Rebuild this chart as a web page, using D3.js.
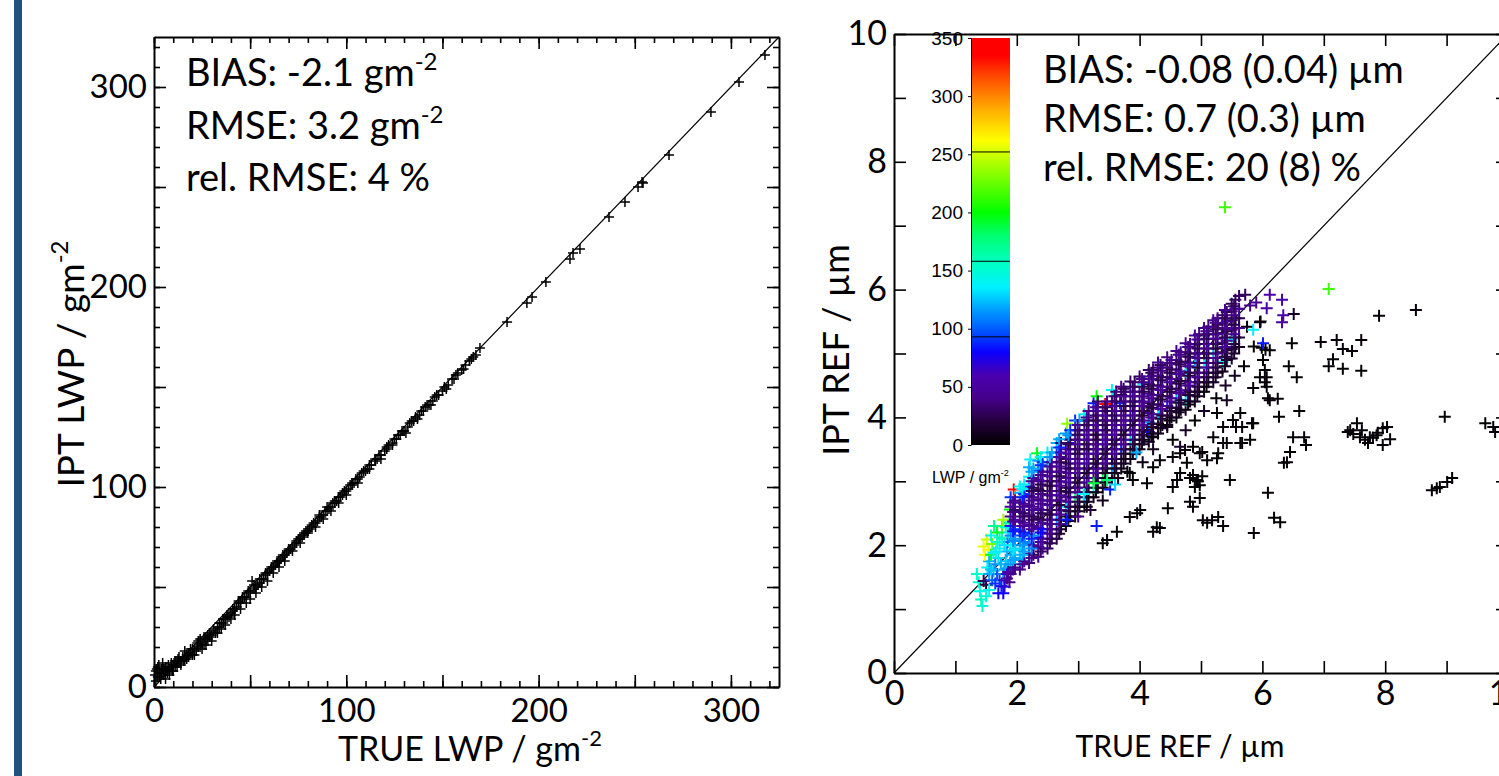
<!DOCTYPE html>
<html>
<head>
<meta charset="utf-8">
<script src="https://cdn.jsdelivr.net/npm/d3@7"></script>
<style>
  body { margin: 0; background: #fff; }
  svg { display: block; }
  text { font-family: Lato, "Open Sans", sans-serif; fill: #000; }
</style>
</head>
<body>
<div id="chart"></div>
<script>
// left panel: true vs retrieved LWP (g m-2)
const lwpTrue = [0.5,1,1.5,2,2.5,3,3.5,4,4.5,5,5.5,6,7,7.5,8,9,9.5,10,11,12,12.5,13,14,15,15.5,16,17,18,19,20,21,22,22.5,23,24,25,26,27,28,29,30,31,32,33,34,35,36,37,38,39,40,41,42,43,44,45,46,47,48,49,50,51,52,53,54,55,56,57,58,59,60,61,62,63,64,65,66,67,68,69,70,71,72,73,74,75,76,77,78,79,80,81,82,83,84,85,86,87,88,89,90,91,92,93,94,95,96,97,98,99,100,101,102,103,104,105,106,107,108,110,111,112,113,115,116,117,118,120,121,122,124,125,126,128,129,130,132,133,135,136,138,139,140,142,143,145,146,148,150,151,153,155,156,158,160,162,164,166,167.4,169.5,183.6,193.9,196.6,203.8,216.3,217.9,221.5,236.6,244.9,251.7,253.8,254.3,267.8,289.6,304.2,317.7,
  1,2,3,4,5,6,6.5,8,9,10,11,12,13,14,16,17,18,19,20,21,23,24,25,26,27,28,29,30,31,33,34,35,36,37,38,40,41,42,44,45,46,48,49,50,52,53,55,56,58,59,61,62,64,65,67,68,70,72,74,76,78,80,82,84,86,88,90,92,94,96,98,100,103,106,109,112,115,118,121,124,127,131,134,137,141,144,147,152,157,161,165];
const lwpIpt  = [6,3,9,5,11,7,4,9,12,6,8,10,7,11,9,12,8,11,13,10,14,12,11,15,13,14,16,15,17,16,19,18,22,20,21,22,21,24,24,25,26,28,27,30,30,32,32,34,35,35,37,38,39,40,42,42,44,45,45,47,48,53,49,50,51,52,54,54,56,57,58,59,60,61,62,63,64,65,66,67,68,69,70,71,72,74,74,75,76,78,78,79,80,82,82,83,85,85,86,88,88,89,90,92,92,93,95,95,96,98,98,99,101,101,102,104,104,105,107,108,109,111,111,113,114,116,116,118,119,121,122,124,124,126,128,128,130,132,133,135,136,138,138,141,141,143,145,146,148,150,151,154,154,157,158.5,161,163,165,166,169.5,182.5,192,195,202.5,214,217,219,235,242.5,250,252.5,252,266,287.5,302.5,316,
  8,10,5,7,9,4,8,6,10,8,10,13,15,13,18,14,17,19,19,16,23,24,19,25,21,26,27,23,29,27,32,29,34,31,36,34,39,36,43,39,45,42,48,44,51,47,54,50,57,53,60,57,63,60,66,63,69,68,73,72,77,77,81,80,86,84,90,88,93,92,97,96,102,102,108,109,114,114,120,121,126,127,133,134,140,141,146,149,156,159,164];
const lwpTicks = [0, 100, 200, 300];
const lwpStats = ["BIAS: -2.1 gm", "RMSE: 3.2 gm", "rel. RMSE: 4 %"];

// right panel: [true REF, retrieved REF, LWP] in µm, µm, g m-2
const refTip = [[1.35,1.55,155],[1.38,1.42,150],[1.40,1.28,145],[1.42,1.15,158],[1.44,1.05,150],[1.46,1.44,28],[1.50,1.38,20],[1.52,1.65,140],[1.55,1.75,120],[1.48,1.85,262],[1.46,1.98,258],[1.51,2.09,250],[1.54,1.93,265],[1.58,1.85,190],[1.60,2.02,230],[1.62,1.60,125],[1.65,1.70,110],[1.68,1.55,95],[1.70,1.80,130],[1.72,1.95,140],[1.75,1.36,85],[1.78,1.25,80],[1.72,1.45,90],[1.76,2.10,150],[1.76,2.30,220],[1.78,2.40,240],[1.80,1.62,115],[1.82,1.75,125],[1.84,1.90,120],[1.85,2.05,100],[1.86,2.20,130],[1.88,2.35,175],[1.89,2.56,200],[1.95,2.87,340],[1.97,2.76,300],[1.68,2.20,200],[1.63,2.30,170],[1.58,2.15,145],[1.70,1.25,80],[1.80,1.45,60],
  [1.55,1.55,118],[1.60,1.45,100],[1.65,1.40,90],[1.62,1.88,135],[1.68,2.05,150],[1.72,2.12,160],[1.78,1.55,110],[1.80,2.00,130],[1.84,1.55,70],[1.86,1.65,120],[1.55,1.30,140],[1.50,1.20,150],[1.58,1.62,125],[1.66,1.90,140],[1.74,1.70,120],[1.82,2.28,150],
  [1.84,1.48,45],[1.88,1.42,40],[1.80,1.35,70],[1.86,1.58,50]];
const refBand = [
  [1.90,1.55,45],[1.90,1.70,115],[1.90,1.85,120],[1.90,2.00,135],[1.90,2.15,110],[1.90,2.30,85],[1.90,2.45,50],[1.90,2.60,45],[1.90,2.75,90],
  [2.05,1.62,40],[2.05,1.77,118],[2.05,1.92,130],[2.05,2.07,112],[2.05,2.22,80],[2.05,2.37,48],[2.05,2.52,45],[2.05,2.67,30],[2.05,2.82,120],[2.05,2.92,140],
  [2.20,1.72,35],[2.20,1.87,45],[2.20,2.02,110],[2.20,2.17,90],[2.20,2.32,50],[2.20,2.47,42],[2.20,2.62,30],[2.20,2.77,45],[2.20,2.92,85],[2.20,3.07,135],[2.20,3.22,120],[2.22,3.34,140],
  [2.35,1.82,40],[2.35,1.97,45],[2.35,2.12,75],[2.35,2.27,48],[2.35,2.42,28],[2.35,2.57,45],[2.35,2.72,42],[2.35,2.87,25],[2.35,3.02,45],[2.35,3.17,90],[2.35,3.32,118],[2.33,3.44,195],
  [2.50,1.95,30],[2.50,2.10,42],[2.50,2.25,45],[2.50,2.40,25],[2.50,2.55,48],[2.50,2.70,40],[2.50,2.85,22],[2.50,3.00,45],[2.50,3.15,40],[2.50,3.30,115],[2.50,3.45,138],
  [2.65,2.10,25],[2.65,2.25,40],[2.65,2.40,110],[2.65,2.55,45],[2.65,2.70,20],[2.65,2.85,45],[2.65,3.00,42],[2.65,3.15,28],[2.65,3.30,45],[2.65,3.45,88],[2.65,3.60,120],
  [2.80,2.30,8],[2.80,2.45,20],[2.80,2.60,130],[2.80,2.75,42],[2.80,2.90,22],[2.80,3.05,46],[2.80,3.20,40],[2.80,3.35,25],[2.80,3.50,45],[2.84,3.60,85],[2.80,3.75,115],[2.82,3.90,235],
  [2.95,2.45,12],[2.95,2.60,25],[2.95,2.75,180],[2.95,2.90,40],[2.95,3.05,20],[2.95,3.20,45],[2.95,3.35,42],[2.95,3.50,24],[2.95,3.65,45],[2.95,3.80,30],[2.95,3.95,90],
  [3.10,2.60,5],[3.10,2.75,118],[3.10,2.90,22],[3.10,3.05,45],[3.10,3.20,18],[3.10,3.35,46],[3.10,3.50,40],[3.10,3.65,25],[3.10,3.80,44],[3.10,3.95,28],[3.10,4.05,138],
  [3.25,2.75,12],[3.25,2.90,135],[3.25,3.05,20],[3.25,3.20,44],[3.25,3.35,18],[3.25,3.50,46],[3.25,3.65,40],[3.25,3.80,22],[3.25,3.95,45],[3.25,4.10,30],[3.25,4.22,85],
  [3.40,2.90,6],[3.40,3.05,190],[3.40,3.20,15],[3.40,3.35,42],[3.40,3.50,20],[3.40,3.65,46],[3.40,3.80,40],[3.40,3.95,24],[3.40,4.10,45],[3.44,4.21,340],[3.30,4.33,200],
  [3.55,3.05,10],[3.55,3.20,115],[3.55,3.35,18],[3.55,3.50,45],[3.55,3.65,22],[3.55,3.80,44],[3.55,3.95,40],[3.55,4.10,26],[3.55,4.25,42],[3.55,4.43,140],
  [3.70,3.20,5],[3.70,3.35,14],[3.70,3.50,85],[3.70,3.65,44],[3.70,3.80,20],[3.70,3.95,46],[3.70,4.10,40],[3.68,4.22,88],[3.70,4.35,25],[3.70,4.48,40],
  [3.85,3.35,12],[3.85,3.50,20],[3.85,3.65,130],[3.85,3.80,42],[3.85,3.95,22],[3.85,4.10,46],[3.85,4.25,25],[3.85,4.40,42],[3.85,4.56,30],
  [4.00,3.50,6],[4.00,3.65,15],[4.00,3.80,22],[4.00,3.95,45],[4.00,4.10,20],[4.00,4.25,44],[4.00,4.40,40],[4.06,4.52,138],[4.00,4.64,28],
  [4.15,3.62,12],[4.15,3.77,80],[4.15,3.92,115],[4.15,4.07,42],[4.15,4.22,22],[4.15,4.37,46],[4.15,4.52,25],[4.15,4.64,42],[4.15,4.74,30],
  [4.30,3.75,5],[4.30,3.90,15],[4.30,4.05,135],[4.30,4.20,44],[4.30,4.35,20],[4.30,4.50,45],[4.30,4.65,26],[4.30,4.78,40],[4.30,4.86,42],
  [4.45,3.88,10],[4.45,4.03,18],[4.45,4.18,85],[4.45,4.33,44],[4.45,4.48,22],[4.45,4.63,46],[4.45,4.78,25],[4.45,4.94,40],
  [4.60,4.00,5],[4.60,4.15,20],[4.60,4.30,118],[4.60,4.45,42],[4.60,4.60,22],[4.60,4.75,45],[4.60,4.90,28],[4.60,5.04,42],
  [4.75,4.12,12],[4.75,4.27,130],[4.75,4.42,20],[4.75,4.57,44],[4.75,4.72,138],[4.75,4.87,42],[4.75,5.02,25],[4.75,5.16,40],
  [4.90,4.25,10],[4.90,4.40,22],[4.90,4.55,42],[4.90,4.70,20],[4.90,4.85,115],[4.90,5.00,44],[4.90,5.14,26],[4.90,5.28,42],
  [5.05,4.40,6],[5.05,4.55,20],[5.05,4.70,44],[5.05,4.85,135],[5.05,5.00,24],[5.05,5.15,42],[5.05,5.28,28],[5.05,5.40,40],
  [5.20,4.55,14],[5.20,4.70,22],[5.20,4.85,40],[5.20,5.00,118],[5.20,5.15,22],[5.20,5.30,44],[5.20,5.42,26],[5.20,5.52,40],
  [5.35,4.72,12],[5.35,4.87,138],[5.35,5.02,20],[5.35,5.17,42],[5.35,5.32,25],[5.35,5.47,40],[5.35,5.60,28],
  [5.50,4.92,15],[5.50,5.07,22],[5.50,5.22,135],[5.50,5.37,42],[5.50,5.52,24],[5.50,5.66,40],[5.50,5.78,28],
  [5.62,5.10,12],[5.62,5.25,20],[5.62,5.40,40],[5.62,5.55,25],[5.62,5.70,42],[5.62,5.90,30]];
const refBandMid = [
  [1.97,1.65,40],[1.97,1.80,120],[1.97,1.95,130],[1.97,2.10,115],[1.97,2.25,88],[1.97,2.40,48],[1.97,2.55,30],[1.97,2.70,45],
  [2.12,1.75,42],[2.12,1.90,118],[2.12,2.05,110],[2.12,2.20,85],[2.12,2.35,45],[2.12,2.50,28],[2.12,2.65,45],[2.12,2.80,90],[2.12,2.95,135],
  [2.27,1.85,30],[2.27,2.00,45],[2.27,2.15,115],[2.27,2.30,48],[2.27,2.45,25],[2.27,2.60,45],[2.27,2.75,40],[2.27,2.90,25],[2.27,3.05,45],[2.27,3.20,120],
  [2.42,1.95,40],[2.42,2.10,45],[2.42,2.25,80],[2.42,2.40,25],[2.42,2.55,46],[2.42,2.70,42],[2.42,2.85,22],[2.42,3.00,45],[2.42,3.15,40],[2.42,3.30,90],
  [2.57,2.10,25],[2.57,2.25,42],[2.57,2.40,46],[2.57,2.55,22],[2.57,2.70,45],[2.57,2.85,40],[2.57,3.00,25],[2.57,3.15,45],[2.57,3.30,42],[2.57,3.45,118],
  [2.72,2.25,15],[2.72,2.40,22],[2.72,2.55,42],[2.72,2.70,45],[2.72,2.85,20],[2.72,3.00,46],[2.72,3.15,40],[2.72,3.30,25],[2.72,3.45,45],[2.72,3.60,30],
  [2.87,2.45,8],[2.87,2.60,20],[2.87,2.75,44],[2.87,2.90,22],[2.87,3.05,45],[2.87,3.20,24],[2.87,3.35,46],[2.87,3.50,40],[2.87,3.65,25],[2.87,3.80,88],
  [3.02,2.60,12],[3.02,2.75,22],[3.02,2.90,44],[3.02,3.05,20],[3.02,3.20,46],[3.02,3.35,42],[3.02,3.50,24],[3.02,3.65,45],[3.02,3.80,28],[3.02,3.95,118],
  [3.17,2.75,6],[3.17,2.90,20],[3.17,3.05,42],[3.17,3.20,22],[3.17,3.35,46],[3.17,3.50,24],[3.17,3.65,44],[3.17,3.80,40],[3.17,3.95,26],[3.17,4.10,42],
  [3.32,2.90,12],[3.32,3.05,20],[3.32,3.20,44],[3.32,3.35,20],[3.32,3.50,46],[3.32,3.65,24],[3.32,3.80,42],[3.32,3.95,26],[3.32,4.10,44],[3.32,4.25,30],
  [3.47,3.05,6],[3.47,3.20,18],[3.47,3.35,42],[3.47,3.50,22],[3.47,3.65,46],[3.47,3.80,24],[3.47,3.95,40],[3.47,4.10,26],[3.47,4.25,42],
  [3.62,3.20,12],[3.62,3.35,20],[3.62,3.50,44],[3.62,3.65,22],[3.62,3.80,46],[3.62,3.95,25],[3.62,4.10,42],[3.62,4.25,26],[3.62,4.40,40],
  [3.77,3.35,6],[3.77,3.50,18],[3.77,3.65,44],[3.77,3.80,22],[3.77,3.95,46],[3.77,4.10,24],[3.77,4.25,42],[3.77,4.40,28],
  [3.92,3.50,12],[3.92,3.65,20],[3.92,3.80,44],[3.92,3.95,22],[3.92,4.10,45],[3.92,4.25,26],[3.92,4.40,42],[3.92,4.55,30],
  [4.07,3.65,8],[4.07,3.80,20],[4.07,3.95,42],[4.07,4.10,22],[4.07,4.25,46],[4.07,4.40,25],[4.07,4.55,40],
  [4.22,3.75,12],[4.22,3.90,20],[4.22,4.05,44],[4.22,4.20,22],[4.22,4.35,45],[4.22,4.50,26],[4.22,4.65,42],[4.22,4.75,30],
  [4.37,3.88,6],[4.37,4.03,20],[4.37,4.18,42],[4.37,4.33,24],[4.37,4.48,46],[4.37,4.63,25],[4.37,4.78,42],
  [4.52,4.00,12],[4.52,4.15,20],[4.52,4.30,44],[4.52,4.45,22],[4.52,4.60,45],[4.52,4.75,26],[4.52,4.90,42],
  [4.67,4.12,6],[4.67,4.27,18],[4.67,4.42,42],[4.67,4.57,22],[4.67,4.72,46],[4.67,4.87,25],[4.67,5.02,40],
  [4.82,4.25,12],[4.82,4.40,20],[4.82,4.55,44],[4.82,4.70,22],[4.82,4.85,45],[4.82,5.00,26],[4.82,5.15,42],
  [4.97,4.40,10],[4.97,4.55,20],[4.97,4.70,42],[4.97,4.85,24],[4.97,5.00,46],[4.97,5.15,25],[4.97,5.30,40],
  [5.12,4.55,12],[5.12,4.70,20],[5.12,4.85,44],[5.12,5.00,22],[5.12,5.15,45],[5.12,5.30,26],[5.12,5.42,40],
  [5.27,4.70,12],[5.27,4.85,22],[5.27,5.00,42],[5.27,5.15,24],[5.27,5.30,46],[5.27,5.45,26],[5.27,5.55,40],
  [5.42,4.90,14],[5.42,5.05,20],[5.42,5.20,42],[5.42,5.35,24],[5.42,5.50,45],[5.42,5.65,28],
  [5.56,5.10,14],[5.56,5.25,22],[5.56,5.40,42],[5.56,5.55,25],[5.56,5.70,44],[5.56,5.84,30]];
const refBandFill = [
  [1.94,1.62,45],[1.94,1.77,118],[1.94,1.92,132],[1.94,2.07,112],[1.94,2.22,85],[1.94,2.37,45],[1.94,2.52,35],[1.94,2.67,45],
  [2.09,1.70,40],[2.09,1.85,120],[2.09,2.00,115],[2.09,2.15,90],[2.09,2.30,48],[2.09,2.45,30],[2.09,2.60,45],[2.09,2.75,85],[2.09,2.88,135],
  [2.24,1.80,42],[2.24,1.95,110],[2.24,2.10,88],[2.24,2.25,45],[2.24,2.40,28],[2.24,2.55,46],[2.24,2.70,42],[2.24,2.85,28],[2.24,3.00,45],[2.24,3.15,118],
  [2.39,1.90,30],[2.39,2.05,45],[2.39,2.20,80],[2.39,2.35,48],[2.39,2.50,25],[2.39,2.65,45],[2.39,2.80,42],[2.39,2.95,24],[2.39,3.10,45],[2.39,3.25,90],[2.39,3.38,138],
  [2.54,2.03,28],[2.54,2.18,42],[2.54,2.33,45],[2.54,2.48,22],[2.54,2.63,46],[2.54,2.78,40],[2.54,2.93,22],[2.54,3.08,45],[2.54,3.23,42],[2.54,3.38,115],
  [2.69,2.18,20],[2.69,2.33,40],[2.69,2.48,45],[2.69,2.63,22],[2.69,2.78,45],[2.69,2.93,42],[2.69,3.08,25],[2.69,3.23,45],[2.69,3.38,42],[2.69,3.53,88],[2.69,3.66,118],
  [2.84,2.38,12],[2.84,2.53,22],[2.84,2.68,42],[2.84,2.83,22],[2.84,2.98,46],[2.84,3.13,40],[2.84,3.28,25],[2.84,3.43,45],[2.84,3.58,28],[2.84,3.72,115],
  [2.99,2.53,8],[2.99,2.68,22],[2.99,2.83,42],[2.99,2.98,20],[2.99,3.13,45],[2.99,3.28,42],[2.99,3.43,24],[2.99,3.58,45],[2.99,3.73,28],[2.99,3.88,42],
  [3.14,2.68,12],[3.14,2.83,20],[3.14,2.98,45],[3.14,3.13,18],[3.14,3.28,46],[3.14,3.43,40],[3.14,3.58,25],[3.14,3.73,44],[3.14,3.88,28],[3.14,4.00,42],
  [3.29,2.83,6],[3.29,2.98,20],[3.29,3.13,44],[3.29,3.28,18],[3.29,3.43,46],[3.29,3.58,40],[3.29,3.73,22],[3.29,3.88,45],[3.29,4.03,30],[3.29,4.16,42],
  [3.44,2.98,12],[3.44,3.13,15],[3.44,3.28,42],[3.44,3.43,20],[3.44,3.58,46],[3.44,3.73,40],[3.44,3.88,24],[3.44,4.03,45],[3.44,4.16,28],
  [3.59,3.13,8],[3.59,3.28,18],[3.59,3.43,45],[3.59,3.58,22],[3.59,3.73,44],[3.59,3.88,40],[3.59,4.03,26],[3.59,4.18,42],[3.59,4.33,30],
  [3.74,3.28,12],[3.74,3.43,18],[3.74,3.58,44],[3.74,3.73,20],[3.74,3.88,46],[3.74,4.03,40],[3.74,4.18,25],[3.74,4.33,42],[3.74,4.45,28],
  [3.89,3.43,6],[3.89,3.58,20],[3.89,3.73,42],[3.89,3.88,22],[3.89,4.03,46],[3.89,4.18,25],[3.89,4.33,42],[3.89,4.48,30],
  [4.04,3.58,12],[4.04,3.73,20],[4.04,3.88,45],[4.04,4.03,20],[4.04,4.18,44],[4.04,4.33,40],[4.04,4.48,26],[4.04,4.60,42],
  [4.19,3.70,6],[4.19,3.85,18],[4.19,4.00,42],[4.19,4.15,22],[4.19,4.30,46],[4.19,4.45,25],[4.19,4.60,42],[4.19,4.70,30],
  [4.34,3.83,12],[4.34,3.98,18],[4.34,4.13,44],[4.34,4.28,20],[4.34,4.43,45],[4.34,4.58,26],[4.34,4.73,40],[4.34,4.82,30],
  [4.49,3.95,6],[4.49,4.10,20],[4.49,4.25,44],[4.49,4.40,22],[4.49,4.55,46],[4.49,4.70,25],[4.49,4.85,40],
  [4.64,4.08,12],[4.64,4.23,20],[4.64,4.38,42],[4.64,4.53,22],[4.64,4.68,45],[4.64,4.83,28],[4.64,4.98,42],
  [4.79,4.20,6],[4.79,4.35,20],[4.79,4.50,44],[4.79,4.65,22],[4.79,4.80,42],[4.79,4.95,25],[4.79,5.10,40],
  [4.94,4.33,12],[4.94,4.48,22],[4.94,4.63,42],[4.94,4.78,20],[4.94,4.93,44],[4.94,5.08,26],[4.94,5.22,42],
  [5.09,4.48,6],[5.09,4.63,20],[5.09,4.78,44],[5.09,4.93,24],[5.09,5.08,42],[5.09,5.23,28],[5.09,5.35,40],
  [5.24,4.63,14],[5.24,4.78,22],[5.24,4.93,40],[5.24,5.08,22],[5.24,5.23,44],[5.24,5.38,26],[5.24,5.48,40],
  [5.39,4.80,12],[5.39,4.95,20],[5.39,5.10,42],[5.39,5.25,25],[5.39,5.40,40],[5.39,5.55,28],[5.39,5.68,42],
  [5.54,5.00,15],[5.54,5.15,22],[5.54,5.30,42],[5.54,5.45,24],[5.54,5.60,40],[5.54,5.74,28]];
const refEdge = [[2.81,2.40,85],[3.00,2.45,40],[3.14,2.60,5],[3.30,2.30,85],[3.52,2.87,85],[3.09,2.80,135],[3.25,2.97,190],[3.47,3.02,180],[3.60,2.95,130],[3.20,2.55,20],[3.40,2.70,10],[3.65,3.05,10],[3.80,3.15,5],[4.05,3.30,8],[3.95,3.45,120],[4.22,3.50,8],
  [5.72,5.92,28],[6.12,5.92,55],[6.32,5.84,55],[6.07,5.71,55],[6.34,5.60,55],[6.32,5.49,50],[5.85,5.37,135],[6.01,5.16,85],[5.80,5.75,40],[5.90,5.80,45],
  [7.08,6.01,215],[5.39,7.29,215]];
const refScatter = [[7.90,5.59,2],[8.50,5.68,2],[6.51,5.62,12],[6.48,5.16,2],[6.95,5.18,2],[7.21,5.21,2],[7.31,5.07,2],[7.46,5.04,2],[7.61,5.21,2],[7.15,4.91,2],[7.08,4.80,2],[7.31,4.76,2],[7.61,4.73,2],[6.43,4.80,2],[6.56,4.63,2],[6.12,4.27,2],[6.25,4.29,2],[6.60,4.10,2],[6.27,4.01,2],[5.83,3.91,2],[5.85,4.46,2],[6.07,4.63,2],[6.07,4.48,2],[6.01,4.90,2],[6.04,4.74,2],[5.96,5.49,12],[6.12,5.05,2],[5.99,5.09,2],[6.50,3.69,2],[6.68,3.69,2],[6.71,3.57,2],[6.45,3.46,2],[6.40,3.30,2],[6.35,3.29,2],[6.09,2.82,2],[5.47,3.02,2],[5.86,2.19,2],[6.19,2.43,2],[6.29,2.36,2],[5.80,3.65,2],[5.67,3.60,2],[5.57,3.85,2],[8.97,4.01,2],
  [7.43,3.80,2],[7.54,3.91,2],[7.48,3.74,2],[7.62,3.80,2],[7.67,3.65,2],[7.75,3.69,2],[7.72,3.60,2],[7.80,3.68,2],[7.88,3.76,2],[7.96,3.83,2],[8.03,3.85,2],[8.08,3.66,2],[7.96,3.57,2],[7.86,3.72,2],[7.59,3.69,2],[7.39,3.77,2],
  [9.63,3.91,2],[9.76,3.85,2],[9.79,3.77,2],[8.76,2.86,2],[8.84,2.89,2],[8.89,2.91,2],[9.01,2.99,2],[9.09,3.05,2],
  [4.82,2.68,2],[4.98,2.74,2],[4.87,2.60,2],[5.03,2.39,2],[5.18,2.39,2],[5.28,2.44,2],[5.10,2.35,2],[5.36,2.30,2],
  [4.87,3.10,2],[4.93,3.02,2],[4.98,2.94,2],[4.90,2.91,2],[4.82,3.05,2],[5.02,3.08,2],[4.95,3.00,2],
  [5.36,3.60,2],[5.28,3.44,2],[5.26,3.36,2],[5.02,3.46,2],[4.74,3.49,2],
  [3.40,2.03,2],[3.47,2.08,2],[3.63,2.21,2],[3.84,2.44,2],[3.96,2.50,2],[4.01,2.55,2],[4.22,2.21,2],[4.33,2.27,2],[4.28,2.28,2],[4.46,2.58,2],[4.54,2.91,2],[4.61,3.02,2],[4.66,3.13,2],
  [4.22,3.22,2],[4.12,2.97,2],[3.89,3.02,2],[3.84,3.13,2],[4.33,3.33,2],[4.54,3.38,2],[4.66,3.44,2],[4.77,3.29,2],[5.42,3.60,2],[5.64,3.60,2],[5.85,3.91,2],[6.04,4.55,2],[5.96,4.63,2],[6.09,4.30,2],[5.64,4.07,2],[5.52,3.96,2],[5.67,3.85,2],[5.42,4.27,12],[5.26,4.07,2],[5.36,3.85,2],[5.20,3.69,2],[4.98,3.44,2],[5.10,3.33,2],[4.87,3.54,2],[4.66,3.54,12],[4.54,3.65,2],[4.45,3.85,12],[4.22,3.69,2],[4.12,3.80,12],
  [5.75,5.42,2],[5.97,5.50,2],[5.86,5.11,2],[6.05,5.06,2],[5.55,4.65,12],[5.70,4.80,2],[5.40,4.50,12],[5.25,4.30,2],[5.05,4.10,12],[4.90,3.95,2],[4.75,3.80,12]];
const refTicks = [0, 2, 4, 6, 8, 10];
const refStats = ["BIAS: -0.08 (0.04) µm", "RMSE: 0.7 (0.3) µm", "rel. RMSE: 20 (8) %"];
const cbTicks = [0, 50, 100, 150, 200, 250, 300, 350];
const cbLines = [93, 158, 252];
const cbStops = [0, 20, 40, 60, 80, 95, 115, 135, 155, 180, 200, 235, 262, 290, 315, 335, 350];
const cbColors = ["#000000","#24003c","#45008a","#4a00b0","#0a00ff","#0048ff","#0098ff","#00f0ff","#00ffc8","#00ff70","#00ff00","#90ff00","#ffff00","#ffa800","#ff5000","#ff0000","#ff0000"];

const W = 1499, H = 776;
const svg = d3.select("#chart").append("svg").attr("width", W).attr("height", H);

svg.append("rect").attr("x", 14).attr("y", 0).attr("width", 8).attr("height", H).attr("fill", "#22507e");

const lwpColor = d3.scaleLinear().domain(cbStops).range(cbColors).clamp(true);

function plus(g, data, x, y, arm, colorFn, sw) {
  g.selectAll(null).data(data).enter().append("path")
    .attr("d", d => {
      const px = x(d[0]), py = y(d[1]);
      return `M${px - arm},${py}H${px + arm}M${px},${py - arm}V${py + arm}`;
    })
    .attr("stroke", colorFn)
    .attr("stroke-width", sw)
    .attr("fill", "none");
}

function frameAxes(g, x, y, major, minor, labels, majorLen, minorLen, fontPx, labelDrop) {
  const xr = x.range(), yr = y.range();
  const mk = (axis, tv, len, fmt) => axis.tickValues(tv).tickSize(-len).tickSizeOuter(0).tickPadding(7).tickFormat(fmt);
  const lab = d => labels.includes(d) ? d : "";
  const none = () => "";
  const sides = [
    [() => d3.axisBottom(x), `translate(0,${yr[0]})`],
    [() => d3.axisTop(x), `translate(0,${yr[1]})`],
    [() => d3.axisLeft(y), `translate(${xr[0]},0)`],
    [() => d3.axisRight(y), `translate(${xr[1]},0)`]
  ];
  sides.forEach(([make, tr], i) => {
    const withLab = i === 0 || i === 2;
    if (minor) {
      g.append("g").attr("transform", tr).call(mk(make(), minor, minorLen, none))
        .call(s => s.select(".domain").remove());
    }
    const ag = g.append("g").attr("transform", tr).call(mk(make(), major, majorLen, withLab ? lab : none));
    ag.selectAll("text").style("font-family", "Lato, sans-serif").style("font-size", fontPx + "px").attr("fill", "#000");
    if (i === 0) ag.selectAll("text").attr("y", labelDrop).attr("dy", 0);
  });
  g.selectAll(".domain").attr("stroke", "#000").attr("stroke-width", 2);
  g.selectAll(".tick line").attr("stroke", "#000").attr("stroke-width", 1.6);
}

// ---- left panel
const xL = d3.scaleLinear().domain([0, 325]).range([154, 779]);
const yL = d3.scaleLinear().domain([0, 325]).range([687, 37]);
const gL = svg.append("g");
gL.append("line").attr("x1", xL(0)).attr("y1", yL(0)).attr("x2", xL(325)).attr("y2", yL(325))
  .attr("stroke", "#000").attr("stroke-width", 1.2);
plus(gL, lwpTrue.map((v, i) => [v, lwpIpt[i]]), xL, yL, 5, "#000", 1.5);
frameAxes(gL, xL, yL, d3.range(0, 326, 50), d3.range(0, 326, 10), lwpTicks, 12, 6, 33, 35);

lwpStats.forEach((s, i) => {
  const t = gL.append("text").attr("x", 186).attr("y", 86 + i * 52.5).style("font-size", "38px").text(s);
  if (i < 2) t.append("tspan").attr("dy", -16).style("font-size", "24px").text("-2");
});
gL.append("text").attr("x", 470).attr("y", 761).attr("text-anchor", "middle").style("font-size", "34px")
  .text("TRUE LWP / gm").append("tspan").attr("dy", -15).style("font-size", "22px").text("-2");
gL.append("text").attr("transform", "translate(84,364) rotate(-90)").attr("text-anchor", "middle").style("font-size", "37px")
  .text("IPT LWP / gm").append("tspan").attr("dy", -16).style("font-size", "24px").text("-2");

// ---- right panel
const xR = d3.scaleLinear().domain([0, 10]).range([894, 1508]);
const yR = d3.scaleLinear().domain([0, 10]).range([673, 34]);
const gR = svg.append("g");
gR.append("line").attr("x1", xR(0)).attr("y1", yR(0)).attr("x2", xR(10)).attr("y2", yR(10))
  .attr("stroke", "#000").attr("stroke-width", 1.2);
[refScatter, refTip, refBand, refBandMid, refBandFill, refEdge].forEach(set =>
  plus(gR, set, xR, yR, 6, d => lwpColor(d[2]), 2));
frameAxes(gR, xR, yR, d3.range(0, 11, 1), null, refTicks, 12, 0, 34, 32);

refStats.forEach((s, i) => {
  gR.append("text").attr("x", 1043).attr("y", 83 + i * 49).style("font-size", "38px").text(s);
});
gR.append("text").attr("x", 1180).attr("y", 757).attr("text-anchor", "middle").style("font-size", "30px").text("TRUE REF / µm");
gR.append("text").attr("transform", "translate(849,350) rotate(-90)").attr("text-anchor", "middle").style("font-size", "36px").text("IPT REF / µm");

// ---- colour bar
const cbY = d3.scaleLinear().domain([0, 350]).range([445, 38]);
const cb = svg.append("g");
const defs = svg.append("defs");
const grad = defs.append("linearGradient").attr("id", "cbgrad").attr("x1", 0).attr("y1", 1).attr("x2", 0).attr("y2", 0);
cbStops.forEach((s, i) => grad.append("stop").attr("offset", s / 350).attr("stop-color", cbColors[i]));
cb.append("rect").attr("x", 971).attr("y", cbY(350)).attr("width", 39).attr("height", cbY(0) - cbY(350)).attr("fill", "url(#cbgrad)");
cb.selectAll(null).data(cbLines).enter().append("line")
  .attr("x1", 971).attr("x2", 1010).attr("y1", d => cbY(d)).attr("y2", d => cbY(d))
  .attr("stroke", "#000").attr("stroke-width", 1);
const cbAxis = cb.append("g").attr("transform", "translate(971,0)")
  .call(d3.axisLeft(cbY).tickValues(cbTicks).tickSize(3).tickSizeOuter(0).tickPadding(5));
cbAxis.select(".domain").attr("stroke", "#000").attr("stroke-width", 1);
cbAxis.selectAll("text").style("font-family", "'Liberation Sans', Arial, sans-serif").style("font-size", "19px").attr("fill", "#000");
cb.append("text").attr("x", 932).attr("y", 483).style("font-family", "'Liberation Sans', Arial, sans-serif").style("font-size", "16px")
  .text("LWP / gm").append("tspan").attr("dy", -7).style("font-size", "9px").text("-2");
</script>
</body>
</html>
